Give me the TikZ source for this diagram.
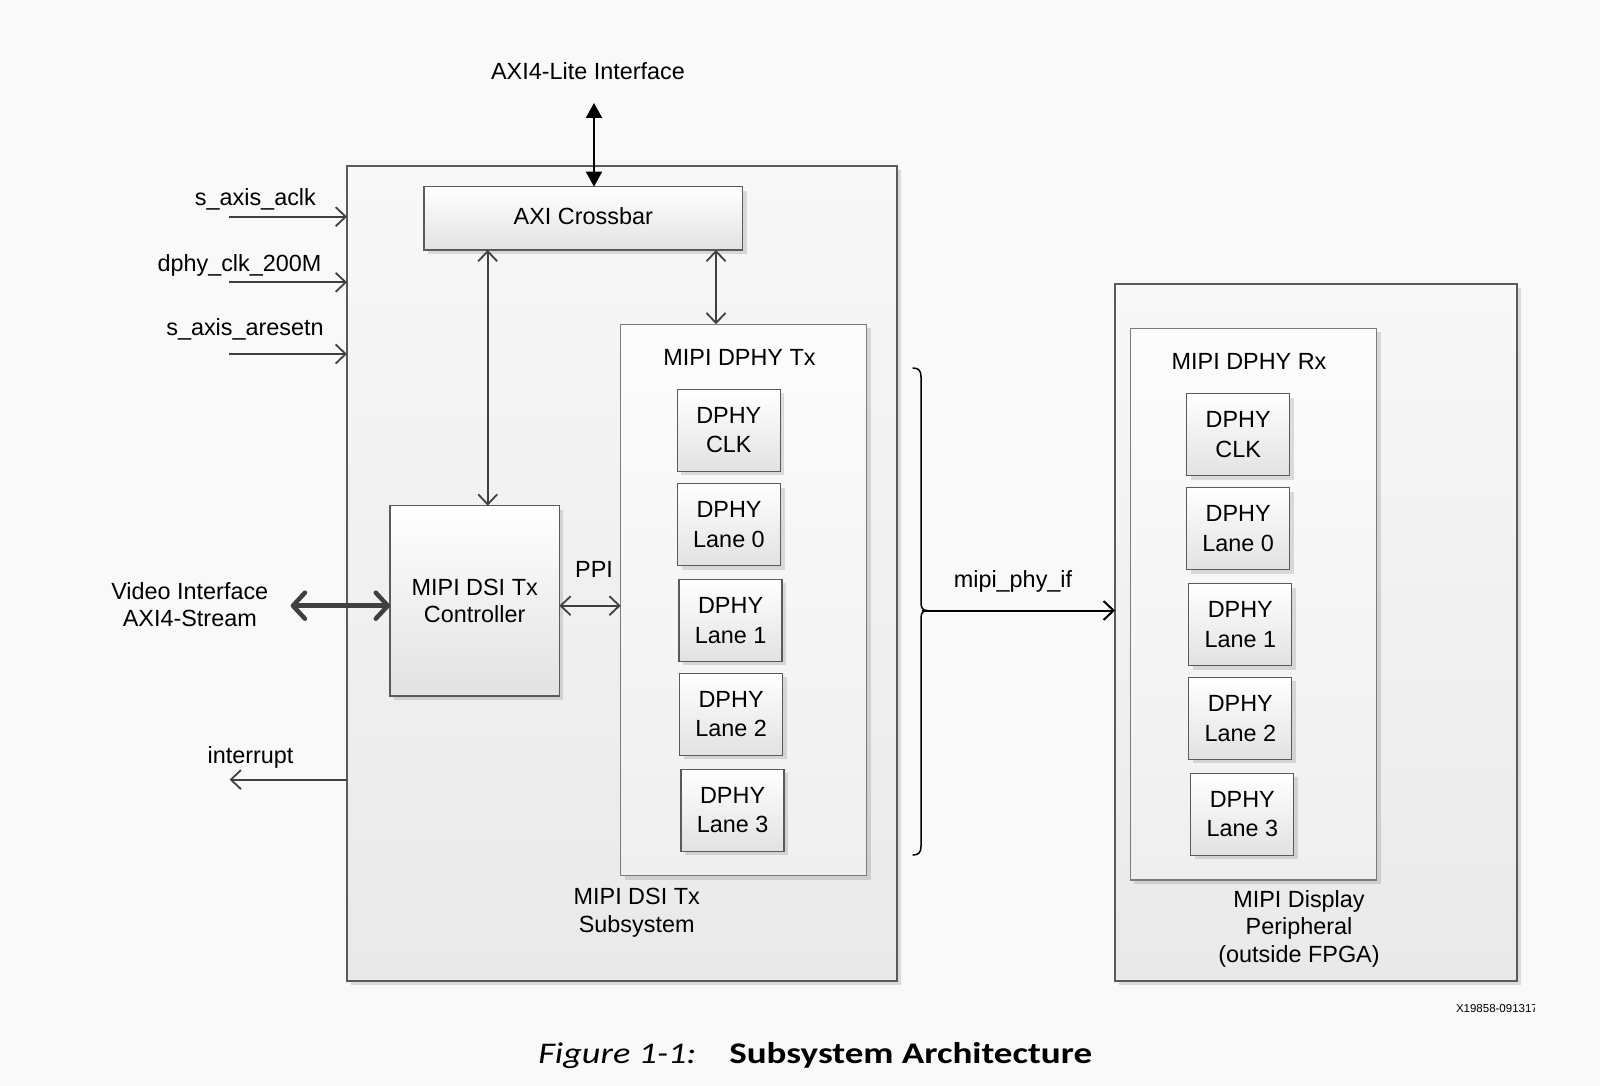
\documentclass[tikz,border=0pt]{standalone}
\usepackage{fontspec}
\setmainfont{Liberation Sans}
\newfontfamily\capfont{Carlito}
\usetikzlibrary{arrows.meta,shadows,calc}
\definecolor{bg}{HTML}{F9F9F9}
\definecolor{bordc}{HTML}{5A5A5A}
\definecolor{arrc}{HTML}{404040}
\definecolor{outtop}{HTML}{F8F8F8}
\definecolor{outbot}{HTML}{E9E9E9}
\definecolor{inbot}{HTML}{E2E2E2}
\newcommand\dfont{\fontsize{23.4}{27.5}\selectfont}
\begin{document}
\begin{tikzpicture}[x=1pt,y=-1pt,
  every node/.style={inner sep=0pt, outer sep=0pt},
  lbl/.style={font=\dfont, align=center, text=black},
  shad/.style={drop shadow={shadow xshift=4pt, shadow yshift=-4pt, fill=black, opacity=0.12}},
  outerbox/.style={draw=bordc, line width=1.3pt, top color=outtop, bottom color=outbot, shad},
  innerbox/.style={draw=bordc!80, line width=1.2pt, top color=white!60!outtop, bottom color=outbot!60!outtop, shad},
  blk/.style={draw=bordc, line width=1.3pt, top color=white, bottom color=inbot, shad, font=\dfont, align=center},
  lane/.style={blk, minimum width=103pt, minimum height=82pt},
  garrow/.style={draw=arrc, line width=1.8pt, -{Straight Barb[length=10pt,width=19pt]}},
  gdual/.style={draw=arrc, line width=1.8pt, {Straight Barb[length=10pt,width=19pt]}-{Straight Barb[length=10pt,width=19pt]}},
  vdual/.style={draw=arrc, line width=4.5pt, {Straight Barb[length=12pt,width=26pt,round]}-{Straight Barb[length=12pt,width=26pt,round]}},
  bdual/.style={draw=black, line width=2pt, {Triangle[length=15pt,width=16pt]}-{Triangle[length=15pt,width=16pt]}},
  barrow/.style={draw=black, line width=2pt, -{Straight Barb[length=10pt,width=19pt]}}
]
\useasboundingbox[fill=bg] (0,0) rectangle (1600,1086);

% outer boxes
\node[outerbox, minimum width=550pt, minimum height=815pt] (sub) at (622,573.5) {};
\node[outerbox, minimum width=402pt, minimum height=697pt] (periph) at (1316,632.5) {};

% inner containers
\node[innerbox, minimum width=246pt, minimum height=551.5pt] (tx) at (743.7,600) {};
\node[innerbox, minimum width=246.5pt, minimum height=551.5pt] (rx) at (1253.5,604.2) {};

% blocks
\node[blk, minimum width=318.7pt, minimum height=63.3pt] (xbar) at (583.3,218.3) {\raisebox{5pt}{AXI Crossbar}};
\node[blk, minimum width=169.3pt, minimum height=190.3pt] (ctrl) at (474.7,600.8) {MIPI DSI Tx\\Controller};

\node[lane] (txclk) at (728.8,430.3) {\raisebox{2pt}{DPHY}\\CLK};
\node[lane] (txl0) at (729.0,524.5) {\raisebox{2pt}{DPHY}\\Lane 0};
\node[lane] (txl1) at (730.6,620.4) {\raisebox{2pt}{DPHY}\\Lane 1};
\node[lane] (txl2) at (731.1,714.3) {\raisebox{2pt}{DPHY}\\Lane 2};
\node[lane] (txl3) at (732.6,810.2) {\raisebox{2pt}{DPHY}\\Lane 3};

\node[lane] (rxclk) at (1238.2,434.7) {\raisebox{2pt}{DPHY}\\CLK};
\node[lane] (rxl0) at (1238.2,528.6) {\raisebox{2pt}{DPHY}\\Lane 0};
\node[lane] (rxl1) at (1240.3,624.5) {\raisebox{2pt}{DPHY}\\Lane 1};
\node[lane] (rxl2) at (1240.3,718.4) {\raisebox{2pt}{DPHY}\\Lane 2};
\node[lane] (rxl3) at (1242.3,814.3) {\raisebox{2pt}{DPHY}\\Lane 3};

% labels
\node[lbl, anchor=base] (axil) at (588,79.6) {AXI4-Lite Interface};
\node[lbl, anchor=base] (l1) at (255.4,205.7) {s\_axis\_aclk};
\node[lbl, anchor=base] (l2) at (239.5,271.7) {dphy\_clk\_200M};
\node[lbl, anchor=base] (l3) at (245,335.7) {s\_axis\_aresetn};
\node[lbl, anchor=base] (lint) at (250.5,763) {interrupt};
\node[lbl] (lvid) at (189.8,604.6) {Video Interface\\AXI4-Stream};
\node[lbl, anchor=base] (ltx) at (739.5,365) {MIPI DPHY Tx};
\node[lbl, anchor=base] (lrx) at (1249,369.3) {MIPI DPHY Rx};
\node[lbl, anchor=base] (lppi) at (594,577.5) {PPI};
\node[lbl, anchor=base] (lmipi) at (1013,587) {mipi\_phy\_if};
\node[lbl] (lsub) at (636.7,912.5) {MIPI DSI Tx\\Subsystem};
\node[lbl] (lper) at (1299,928.5) {MIPI Display\\Peripheral\\(outside FPGA)};

% connectors
\coordinate (axitop) at (594,103);
\draw[bdual] (axitop) -- (axitop |- xbar.north);

\coordinate (i1) at (229,216.7);
\coordinate (i2) at (229,282.3);
\coordinate (i3) at (229,354);
\draw[garrow] (i1) -- (i1 -| sub.west);
\draw[garrow] (i2) -- (i2 -| sub.west);
\draw[garrow] (i3) -- (i3 -| sub.west);

\coordinate (iout) at (229.6,779.6);
\draw[garrow] (iout -| sub.west) -- (iout);

\coordinate (vid) at (290.7,605.7);
\draw[vdual] (vid) -- (vid -| ctrl.west);

\coordinate (c1) at (487.7,0);
\coordinate (c2) at (716,0);
\draw[gdual] (xbar.south -| c1) -- (ctrl.north -| c1);
\draw[gdual] (xbar.south -| c2) -- (tx.north -| c2);

\coordinate (ppi) at (0,605.7);
\draw[gdual] (ctrl.east |- ppi) -- (tx.west |- ppi);

% brace
\draw[black, line width=1.5pt, line cap=round]
  (913,368) .. controls (919,368) and (921,371) .. (921,377)
  -- (921,603) .. controls (921,608) and (923,610.5) .. (927,610.5)
  .. controls (923,610.5) and (921,613) .. (921,618)
  -- (921,846) .. controls (921,852) and (919,855) .. (913,855);
\coordinate (tip) at (922,610.5);
\draw[barrow] (tip) -- (tip -| periph.west);

% id
\begin{scope}
\clip (1440,990) rectangle (1534,1025);
\node[font=\fontsize{11.5}{13}\selectfont, anchor=west] (xid) at (1456,1008.3) {X19858-091317};
\end{scope}

% caption
\node[font=\capfont\fontsize{30}{36}\selectfont, anchor=base west] (figl) at (538.3,1063.5) {\scalebox{1.21}[1]{\itshape Figure 1-1:}};
\node[font=\capfont\fontsize{30}{36}\selectfont, anchor=base west] (figt) at (729.3,1063.5) {\scalebox{1.235}[1]{\bfseries Subsystem Architecture}};
\end{tikzpicture}
\end{document}
